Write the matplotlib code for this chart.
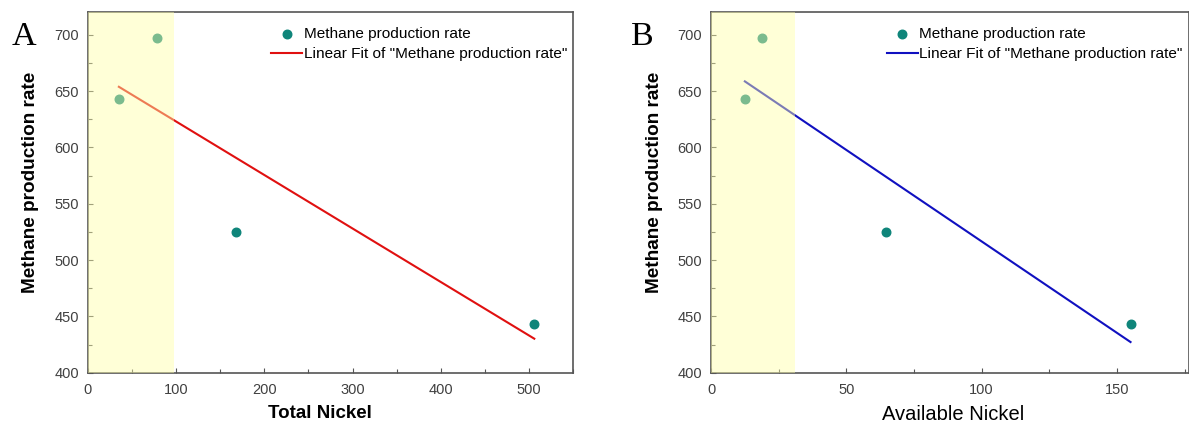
import numpy as np
import matplotlib
matplotlib.use("Agg")
import matplotlib.pyplot as plt
from matplotlib.ticker import MultipleLocator

plt.rcParams['font.family'] = ['Liberation Sans', 'DejaVu Sans']

# data
total_ni = [35, 78, 168, 506]
avail_ni = [12.5, 19, 64.5, 155]
methane = [643, 697, 525, 443]

teal = '#0f857a'
shade = '#ffffa8'

fig = plt.figure(figsize=(11.89, 4.32), dpi=100)
ax1 = fig.add_axes([0.074, 0.137, 0.408, 0.835])
ax2 = fig.add_axes([0.598, 0.137, 0.402, 0.835])

panels = [
    (ax1, total_ni, '#e01010', 'Total Nickel', 'bold', 13.5, 0.478, (0, 550), 100, 50, 97, 'A', -0.157),
    (ax2, avail_ni, '#1010c0', 'Available Nickel', 'normal', 14.5, 0.506, (0, 176.6), 50, 25, 31, 'B', -0.168),
]

for ax, x, lc, xlab, xw, xs_, xpos, xlim, xmaj, xmin, span, tag, tagx in panels:
    ax.scatter(x, methane, s=38, color=teal, zorder=3, label='Methane production rate')
    k, b = np.polyfit(x, methane, 1)
    xs = np.array([min(x), max(x)])
    ax.plot(xs, k * xs + b, color=lc, lw=1.5, zorder=2,
            label='Linear Fit of "Methane production rate"')
    ax.axvspan(0, span, color=shade, alpha=0.45, lw=0, zorder=4)

    ax.set_xlim(*xlim)
    ax.set_ylim(400, 720)
    ax.xaxis.set_major_locator(MultipleLocator(xmaj))
    ax.xaxis.set_minor_locator(MultipleLocator(xmin))
    ax.yaxis.set_major_locator(MultipleLocator(50))
    ax.yaxis.set_minor_locator(MultipleLocator(25))
    ax.tick_params(which='both', direction='in', labelsize=10.5, labelcolor='#404040',
                   color='#555555', width=0.8)
    ax.tick_params(which='major', length=3.6)
    ax.tick_params(which='minor', length=2.9)
    ax.tick_params(axis='y', which='major', pad=6.5)
    ax.tick_params(axis='x', which='major', pad=7)
    for s in ax.spines.values():
        s.set_color('#555555')
        s.set_linewidth(1.2)

    ax.set_xlabel(xlab, fontsize=xs_, fontweight=xw, va='top')
    ax.xaxis.set_label_coords(xpos, -0.09)
    ax.set_ylabel('Methane production rate', fontsize=13.7, fontweight='bold')
    ax.yaxis.set_label_coords(-0.1, 0.528)

    ax.legend(loc='upper right', bbox_to_anchor=(1.0, 0.975), frameon=False, fontsize=11.1,
              handlelength=2.0, handletextpad=0.1, borderaxespad=0.1, borderpad=0.3,
              labelspacing=0.4)
    ax.text(tagx, 0.932, tag, transform=ax.transAxes, fontsize=24.5,
            family='Liberation Serif', va='center', ha='left')

fig.savefig('out.png', dpi=100)
